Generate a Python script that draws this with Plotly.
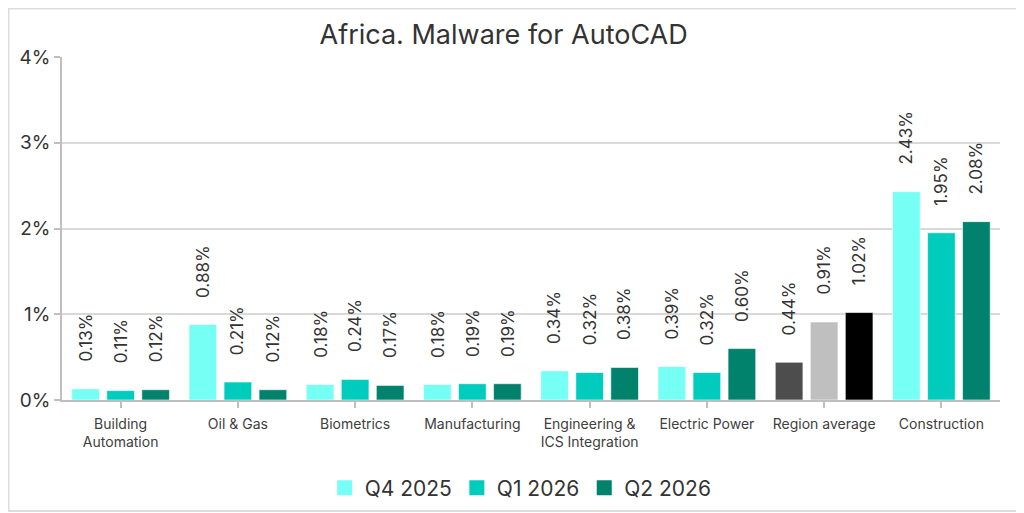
import plotly.graph_objects as go

categories = ["Building<br>Automation", "Oil & Gas", "Biometrics", "Manufacturing",
              "Engineering &<br>ICS Integration", "Electric Power", "Region average", "Construction"]
series_names = ["Q4 2025", "Q1 2026", "Q2 2026"]
q4_2025 = [0.13, 0.88, 0.18, 0.18, 0.34, 0.39, 0.44, 2.43]
q1_2026 = [0.11, 0.21, 0.24, 0.19, 0.32, 0.32, 0.91, 1.95]
q2_2026 = [0.12, 0.12, 0.17, 0.19, 0.38, 0.60, 1.02, 2.08]
y_ticks = [0, 1, 2, 3, 4]
y_tick_labels = ["0%", "1%", "2%", "3%", "4%"]

series_values = [q4_2025, q1_2026, q2_2026]
series_colors = ["#75FFF5", "#00CCBE", "#00826C"]
avg_colors = ["#4D4D4D", "#BFBFBF", "#000000"]
avg_index = categories.index("Region average")

FONT = "Inter"
TEXT = "#333333"

W, H = 1024, 513
ML, MR, MT, MB = 54, 32, 49, 121
PW, PH = W - ML - MR, H - MT - MB

fig = go.Figure()
for i, (name, vals) in enumerate(zip(series_names, series_values)):
    colors = [series_colors[i]] * len(categories)
    colors[avg_index] = avg_colors[i]
    fig.add_trace(go.Bar(
        name=name, x=categories, y=vals, showlegend=False,
        marker=dict(color=colors, line=dict(color="rgba(255,255,255,0.6)", width=1)),
        hoverinfo="x+y",
    ))

# legend entries with larger square swatches
for name, col in zip(series_names, series_colors):
    fig.add_trace(go.Scatter(
        name=name, x=[None], y=[None], mode="markers",
        marker=dict(symbol="square", size=15, color=col), showlegend=True,
    ))

# value labels (rotated) above each bar
slot_px = 35
for i, vals in enumerate(series_values):
    for cat, v in zip(categories, vals):
        fig.add_annotation(
            x=cat, y=v, xref="x", yref="y",
            text=f"{v:.2f}%", showarrow=False, textangle=-90,
            xanchor="center", yanchor="bottom",
            xshift=(i - 1) * slot_px, yshift=25,
            font=dict(family=FONT, size=17, color=TEXT),
        )

# outer light frame
fig.add_shape(type="rect", xref="paper", yref="paper",
              x0=-ML / PW + 0.5 / PW, x1=(1013 - ML) / PW,
              y0=-(503 - MT - PH) / PH, y1=1 + (MT - 0.5) / PH,
              line=dict(color="#DDDDDD", width=2), fillcolor="rgba(0,0,0,0)", layer="below")

fig.update_layout(
    width=W, height=H,
    margin=dict(l=ML, r=MR, t=MT, b=MB),
    paper_bgcolor="white", plot_bgcolor="white",
    barmode="group", bargap=0.104, bargroupgap=0.21,
    title=dict(text="Africa. Malware for AutoCAD", x=0.484, xanchor="center",
               y=1 - 27 / H, yanchor="middle",
               font=dict(family=FONT, size=27, color=TEXT)),
    showlegend=True,
    legend=dict(orientation="h", x=0.489, xanchor="center", y=-88 / PH, yanchor="middle",
                font=dict(family=FONT, size=21, color=TEXT),
                itemwidth=30, traceorder="normal"),
    font=dict(family=FONT, color=TEXT),
)
fig.update_xaxes(
    type="category", showline=True, linecolor="#BFBFBF", linewidth=1.5,
    ticks="outside", ticklen=6, tickcolor="#BFBFBF", tickwidth=1.5,
    tickfont=dict(family=FONT, size=14, color="#404040"),
    ticklabelstandoff=4,
    showgrid=False,
)
fig.update_yaxes(
    range=[0, 4], tickvals=y_ticks, ticktext=y_tick_labels,
    showline=True, linecolor="#BFBFBF", linewidth=1.5,
    ticks="outside", ticklen=6, tickcolor="#BFBFBF", tickwidth=1.5,
    tickfont=dict(family=FONT, size=19, color=TEXT),
    showgrid=False, zeroline=False,
    minor=dict(tickvals=[1, 2, 3], showgrid=True, gridcolor="#D9D9D9", gridwidth=1.5, ticks=""),
)

fig.write_html("out.html")
